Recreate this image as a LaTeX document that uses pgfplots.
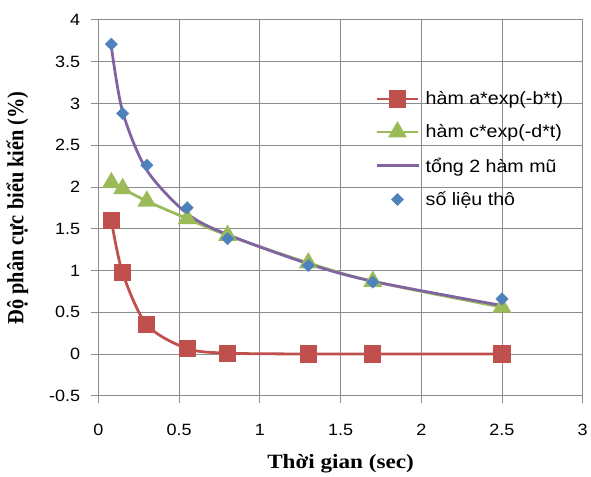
\documentclass[border=0pt]{standalone}
\usepackage{fontspec}
\setmainfont{Liberation Serif}
\newfontfamily\sanswide{Liberation Sans}[FakeStretch=1.1]
\newfontfamily\serifwide{Liberation Serif}[FakeStretch=1.14]
\usepackage{graphicx}
\usepackage{pgfplots}
\pgfplotsset{compat=1.18}
\definecolor{xlred}{HTML}{C0504D}
\definecolor{xlgreen}{HTML}{9BBB59}
\definecolor{xlpurple}{HTML}{8064A2}
\definecolor{xlblue}{HTML}{4F81BD}
\definecolor{gridgray}{HTML}{8C8C8C}

\begin{document}
\begin{tikzpicture}
\begin{axis}[
    name=ax,
    scale only axis,
    width=487bp, height=378bp,
    xmin=0, xmax=3, ymin=-0.5, ymax=4,
    xtick distance=0.5, ytick distance=0.5,
    xtick pos=left, ytick pos=left,
    tick align=outside,
    major tick length=7bp,
    every tick/.style={gridgray, line width=0.8bp},
    axis line style={gridgray, line width=0.8bp},
    grid=major,
    grid style={gridgray, line width=0.8bp},
    /pgf/number format/assume math mode=true,
    tick label style={font=\sanswide\fontsize{16.5}{19}\selectfont},
    yticklabel style={xshift=-8bp},
    xticklabel style={yshift=-18bp},
    xlabel={\serifwide\bfseries Thời gian (sec)},
    ylabel={\scalebox{1}[1.14]{\bfseries Độ phân cực biểu kiến (\%)}},
    xlabel style={yshift=-12bp},
    ylabel style={yshift=14bp},
    label style={font=\fontsize{20.5}{24}\selectfont},
    legend cell align=left,
    legend style={at={(0.565,0.82)}, anchor=north west, draw=none, fill=none,
        font=\sanswide\fontsize{18}{21}\selectfont, row sep=14.5bp,
        /tikz/column 1/.style={column sep=4bp}},
    legend image code/.code={\draw[mark repeat=2,mark phase=2] plot coordinates {(0bp,0bp) (21bp,0bp) (42bp,0bp)};},
    linemark legend/.style={legend image code/.code={
        \draw[mark=none, line width=2.8bp] (0bp,0bp) -- (42bp,0bp);
        \draw[only marks, mark repeat=2, mark phase=2] plot coordinates {(0bp,0bp) (21bp,0bp) (42bp,0bp)};}},
]
\addplot[xlred, line width=2.8bp, smooth, mark=square*, mark size=7.2,
    mark options={solid, fill=xlred, draw=none}, linemark legend]
    coordinates {(0.08,1.60) (0.15,0.97) (0.3,0.35) (0.55,0.065) (0.8,0.01) (1.3,0) (1.7,0) (2.5,0)};
\addplot[xlgreen, line width=2.8bp, smooth, mark=triangle*, mark size=8.2,
    mark options={solid, fill=xlgreen, draw=none}, linemark legend]
    coordinates {(0.08,2.05) (0.15,1.98) (0.3,1.83) (0.55,1.62) (0.8,1.42) (1.3,1.09) (1.7,0.87) (2.5,0.56)};
\addplot[xlpurple, line width=2.8bp, smooth, no marks]
    coordinates {(0.08,3.68) (0.15,2.90) (0.3,2.20) (0.55,1.68) (0.8,1.43) (1.3,1.08) (1.7,0.87) (2.5,0.58)};
\addplot[only marks, mark=square*, mark size=4.4, mark options={rotate=45, fill=xlblue, draw=xlblue}]
    coordinates {(0.08,3.71) (0.15,2.88) (0.3,2.26) (0.55,1.75) (0.8,1.38) (1.3,1.06) (1.7,0.86) (2.5,0.66)};
\legend{hàm a*exp(-b*t), hàm c*exp(-d*t), tổng 2 hàm mũ, số liệu thô}
\end{axis}
\path ([shift={(-99bp,-76bp)}]ax.south west) rectangle ([shift={(5bp,20bp)}]ax.north east);
\end{tikzpicture}
\end{document}
